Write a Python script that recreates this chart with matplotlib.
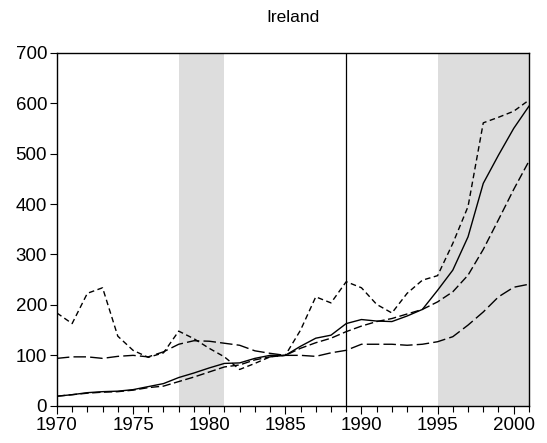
import numpy as np
import matplotlib
matplotlib.use("Agg")
import matplotlib.pyplot as plt
from matplotlib.ticker import MultipleLocator

plt.rcParams["font.family"] = ["Liberation Sans", "DejaVu Sans"]

# ------------------------------------------------------------------
# Data (index, 1985 = 100)
# ------------------------------------------------------------------
years = list(range(1970, 2002))

series_short = [184, 163, 223, 234, 138, 110, 96, 105, 148, 133, 114, 97, 72, 84, 97, 100,
                150, 216, 204, 246, 234, 201, 184, 223, 249, 258, 322, 395, 561, 572, 584, 606]
series_solid = [19, 22, 26, 28, 29, 32, 38, 44, 56, 65, 75, 84, 85, 94, 100, 100,
                118, 134, 140, 163, 171, 168, 167, 178, 191, 229, 269, 335, 441, 497, 550, 594]
series_medium = [19, 22, 25, 27, 28, 31, 36, 39, 48, 57, 67, 77, 81, 91, 97, 100,
                 114, 125, 134, 147, 158, 167, 173, 182, 191, 206, 226, 259, 310, 369, 429, 485]
series_long = [94, 97, 97, 94, 98, 100, 97, 107, 122, 129, 128, 124, 120, 109, 104, 100,
               100, 98, 105, 110, 122, 122, 122, 120, 122, 127, 137, 160, 186, 216, 235, 241]

shaded_periods = [(1978, 1981), (1995, 2001)]
break_year = 1989

# ------------------------------------------------------------------
# Plot
# ------------------------------------------------------------------
fig = plt.figure(figsize=(5.47, 4.43), dpi=100)
ax = fig.add_axes([0.104, 0.084, 0.863, 0.797])

for start, end in shaded_periods:
    ax.axvspan(start, end, color="#dddddd", lw=0, zorder=0)
ax.axvline(break_year, color="black", lw=0.9, zorder=1)

ax.plot(years, series_short, color="black", lw=1.0, dashes=(4, 2.5), zorder=3)
ax.plot(years, series_solid, color="black", lw=1.0, zorder=3)
ax.plot(years, series_medium, color="black", lw=1.0, dashes=(6, 2.5), zorder=3)
ax.plot(years, series_long, color="black", lw=1.0, dashes=(9, 3), zorder=3)

ax.set_xlim(1970, 2001)
ax.set_ylim(0, 700)
ax.xaxis.set_major_locator(MultipleLocator(5))
ax.xaxis.set_minor_locator(MultipleLocator(1))
ax.yaxis.set_major_locator(MultipleLocator(100))

ax.tick_params(axis="x", which="major", direction="out", length=6, width=0.8,
               labelsize=13.5, pad=2)
ax.tick_params(axis="x", which="minor", direction="out", length=4, width=0.8)
ax.tick_params(axis="y", which="major", direction="out", length=5, width=0.8,
               labelsize=13.5, pad=2)
for spine in ax.spines.values():
    spine.set_linewidth(1.0)

ax.set_title("Ireland", fontsize=12.5, pad=22)

fig.savefig("out.png", dpi=100)
